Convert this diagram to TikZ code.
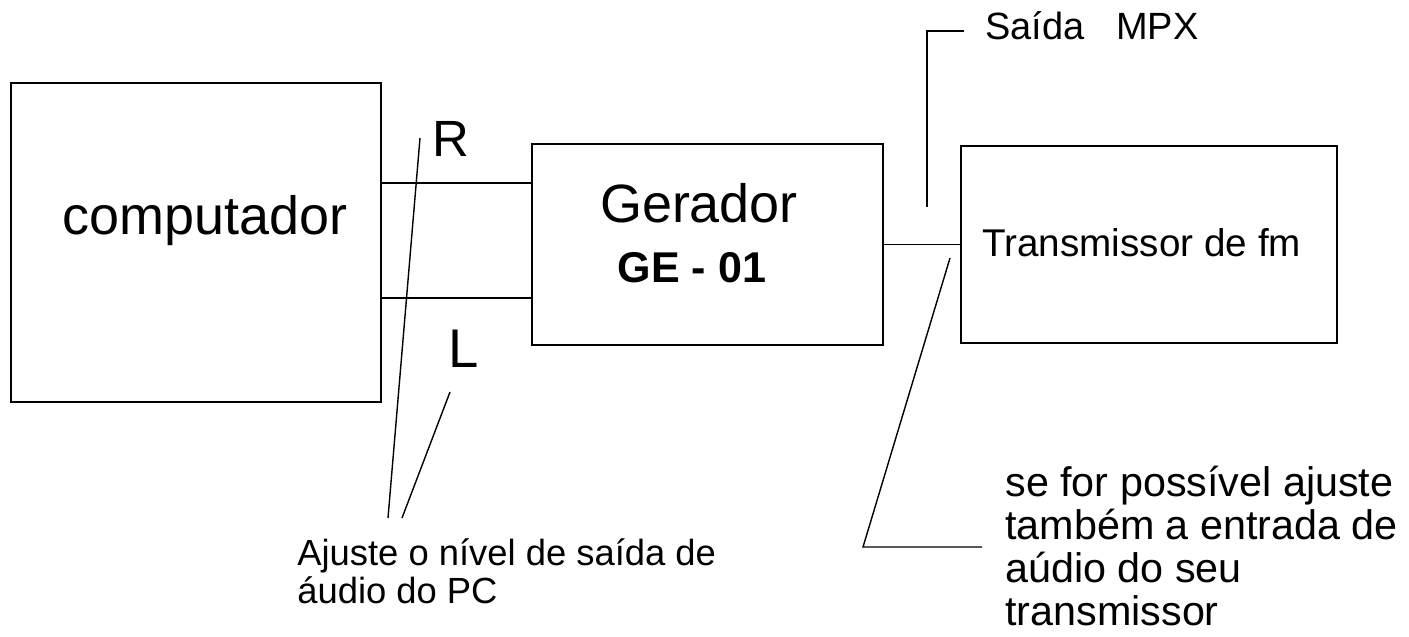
\documentclass[tikz,border=0pt]{standalone}
\usepackage{fontspec}
\setmainfont{Liberation Sans}
\usepackage{tikz}

\begin{document}
\begin{tikzpicture}[
  box/.style={draw, line width=1pt, inner sep=0pt},
  wire/.style={line width=1pt},
  lead/.style={line width=0.8pt},
  big/.style={inner sep=0pt, font=\fontsize{30.7}{36}\selectfont},
  small/.style={inner sep=0pt, font=\fontsize{21.6}{21.8}\selectfont}]
\useasboundingbox (0,0) rectangle (28.18,-12.74);

% blocos
\node[box, minimum width=7.40cm, minimum height=6.38cm] (comp) at (3.92,-4.85) {};
\node[box, minimum width=7.02cm, minimum height=4.02cm] (gen) at (14.15,-4.89) {};
\node[box, minimum width=7.52cm, minimum height=3.94cm] (tx) at (22.98,-4.89) {};

\node[big, anchor=base] (compname) at (4.10,-4.70) {computador};
\node[big, anchor=base] (genname) at (13.98,-4.46) {Gerador};
\node[inner sep=0pt, font=\fontsize{24.5}{28}\selectfont\bfseries, anchor=base] (genmodel) at (13.84,-5.66) {GE - 01};
\node[inner sep=0pt, font=\fontsize{22}{24}\selectfont, anchor=base west] (txname) at (19.64,-5.14) {Transmissor de fm};

% canais R e L
\coordinate (rlev) at (0,-3.66);
\coordinate (llev) at (0,-5.96);
\draw[wire] (comp.east |- rlev) -- (gen.west |- rlev);
\draw[wire] (comp.east |- llev) -- (gen.west |- llev);
\draw[wire] (gen.east) -- (tx.west);

\node[inner sep=0pt, font=\fontsize{29}{32}\selectfont, anchor=base west] (rname) at (8.64,-3.14) {R};
\node[inner sep=0pt, font=\fontsize{31}{36}\selectfont, anchor=base west] (lname) at (8.96,-7.36) {L};

% saida MPX
\node[small, anchor=base west] (mpx) at (19.70,-0.80) {Saída~~~MPX};
\coordinate (mpxfoot) at (18.54,-4.14);
\coordinate (mpxend) at (19.28,-0.62);
\draw[lead] (mpxfoot) |- (mpxend);

% notas
\node[inner sep=0pt, font=\fontsize{20.7}{21.6}\selectfont, align=left, anchor=north west] (pcnote) at (5.94,-10.77) {Ajuste o nível de saída de\\áudio do PC};
\coordinate (rtip) at (8.40,-2.76);
\coordinate (ltip) at (9.00,-7.84);
\coordinate (pcfoot1) at (7.76,-10.36);
\coordinate (pcfoot2) at (8.04,-10.36);
\draw[lead] (rtip) -- (pcfoot1);
\draw[lead] (ltip) -- (pcfoot2);

\node[inner sep=0pt, font=\fontsize{23.5}{24.5}\selectfont, align=left, anchor=north west] (txnote) at (20.10,-9.32) {se for possível ajuste\\também a entrada de\\aúdio do seu\\transmissor};
\coordinate (txtip) at (19.00,-5.16);
\coordinate (txcorner) at (17.26,-10.94);
\coordinate (txend) at (19.64,-10.94);
\draw[lead] (txtip) -- (txcorner) -- (txend);
\end{tikzpicture}
\end{document}
